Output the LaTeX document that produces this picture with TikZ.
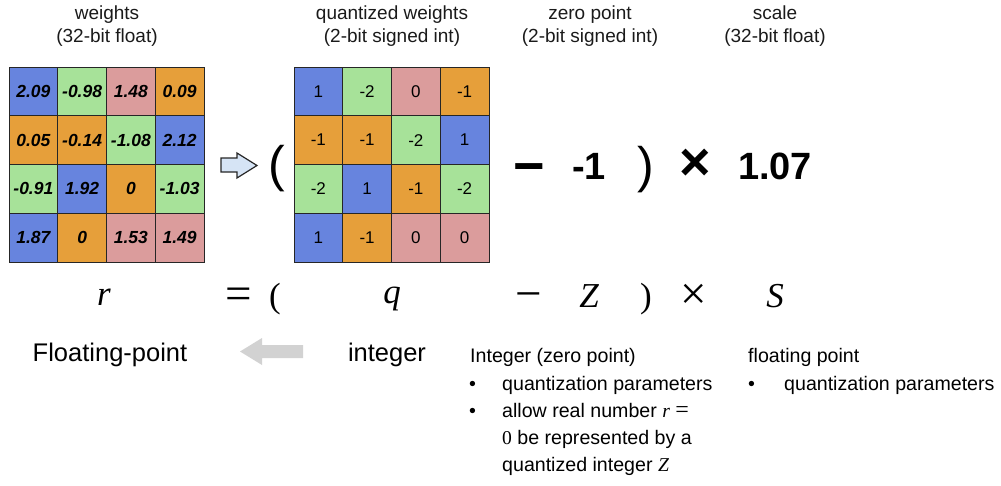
\documentclass[tikz,border=0pt]{standalone}
\usepackage[no-math]{fontspec}
\setmainfont{Liberation Sans}
\newfontfamily\eqfont{Liberation Serif}
\definecolor{cb}{HTML}{6784DE}
\definecolor{cg}{HTML}{A7E299}
\definecolor{cp}{HTML}{DB9C9C}
\definecolor{co}{HTML}{E69F3A}
\definecolor{arrowblue}{HTML}{D6E4F5}
\definecolor{arrowgray}{HTML}{D2D2D2}
\definecolor{ink}{HTML}{1A1A1A}
\begin{document}
\begin{tikzpicture}[x=1pt,y=-1pt,
  cell/.style={draw=black!85, line width=0.8pt, minimum size=48.75pt, inner sep=0pt},
  wnum/.style={cell, font=\fontsize{17.5}{20}\selectfont\bfseries\itshape},
  qnum/.style={cell, font=\fontsize{17}{20}\selectfont},
  wtitle/.style={align=center, font=\fontsize{19}{22.5}\selectfont, text=ink, inner sep=0pt},
  bignum/.style={inner sep=0pt, font=\fontsize{38}{44}\selectfont\bfseries},
  bigsym/.style={inner sep=0pt, font=\fontsize{54}{60}\selectfont\bfseries},
  bigparen/.style={inner sep=0pt, font=\fontsize{50}{60}\selectfont},
  eqsym/.style={inner sep=0pt, anchor=base, font=\fontsize{35}{40}\selectfont\eqfont},
  eqop/.style={inner sep=0pt, anchor=base, font=\fontsize{47}{50}\selectfont\eqfont},
  biglabel/.style={inner sep=0pt, anchor=base, font=\fontsize{25.5}{30}\selectfont},
  notetext/.style={inner sep=0pt, anchor=base west, font=\fontsize{19.6}{24}\selectfont},
  hollowarrow/.style={draw=black!85, line width=1.2pt, fill=arrowblue, line join=miter},
]
\useasboundingbox (0,0) rectangle (1001,485);

% titles
\node[wtitle] (t1) at (107,26) {weights\\(32-bit float)};
\node[wtitle] (t2) at (392,26) {quantized weights\\(2-bit signed int)};
\node[wtitle] (t3) at (590,26) {zero point\\(2-bit signed int)};
\node[wtitle] (t4) at (775,26) {scale\\(32-bit float)};

% weights grid
\foreach \clr/\val [count=\k from 0] in {cb/2.09, cg/-0.98, cp/1.48, co/0.09,
    co/0.05, co/-0.14, cg/-1.08, cb/2.12,
    cg/-0.91, cb/1.92, co/0, cg/-1.03,
    cb/1.87, co/0, cp/1.53, cp/1.49}{
  \pgfmathtruncatemacro{\row}{\k/4}
  \pgfmathtruncatemacro{\col}{\k-4*\row}
  \node[wnum, fill=\clr] (w\k) at ({9+48.75*(\col+0.5)},{67+48.75*(\row+0.5)}) {\val};
}

% quantized grid
\foreach \clr/\val [count=\k from 0] in {cb/1, cg/-2, cp/0, co/-1,
    co/-1, co/-1, cg/-2, cb/1,
    cg/-2, cb/1, co/-1, cg/-2,
    cb/1, co/-1, cp/0, cp/0}{
  \pgfmathtruncatemacro{\row}{\k/4}
  \pgfmathtruncatemacro{\col}{\k-4*\row}
  \node[qnum, fill=\clr] (q\k) at ({294+48.75*(\col+0.5)},{67+48.75*(\row+0.5)}) {\val};
}

% hollow arrow
\draw[hollowarrow] (221,158) -- (237,158) -- (237,153) -- (257,165.5) -- (237,178) -- (237,172) -- (221,172) -- cycle;

% top equation row
\node[bigparen] (lp) at (277,169) {(};
\node[bigsym] (mn) at (529,174) {−};
\node[bignum] (zp) at (589,166) {-1};
\node[bigparen] (rp) at (646,170) {)};
\node[bigsym] (tm) at (695,165) {×};
\node[bignum] (sc) at (775,166) {1.07};

% symbolic equation row
\node[eqsym] (r) at (104,305) {\itshape r};
\node[eqop] (eqs) at (239,309) {=};
\node[eqsym] (lp2) at (275,307) {(};
\node[eqsym] (q) at (392,303) {\itshape q};
\node[eqop] (mn2) at (529,309) {−};
\node[eqsym] (Z) at (589,307.5) {\itshape Z};
\node[eqsym] (rp2) at (646,307) {)};
\node[eqop] (tm2) at (694,309) {×};
\node[eqsym] (S) at (775,307.5) {\itshape S};

% labels
\node[biglabel] (fp) at (110,361) {Floating-point};
\node[biglabel] (int) at (387,361) {integer};
\fill[arrowgray] (303,345) -- (262,345) -- (262,338) -- (240,351.5) -- (262,365) -- (262,358) -- (303,358) -- cycle;

% notes: zero point
\node[notetext] (n1) at (470,362) {Integer (zero point)};
\node[notetext] (b1) at (469,390) {•};
\node[notetext] (n2) at (502,390) {quantization parameters};
\node[notetext] (b2) at (469,417) {•};
\node[notetext] (n3) at (502,417) {allow real number {\eqfont\itshape r} {\eqfont\fontsize{24}{24}\selectfont =}};
\node[notetext] (n4) at (502,444) {{\eqfont 0} be represented by a};
\node[notetext] (n5) at (502,471) {quantized integer {\eqfont\itshape Z}};

% notes: scale
\node[notetext] (m1) at (748,362) {floating point};
\node[notetext] (b3) at (748,390) {•};
\node[notetext] (m2) at (784,390) {quantization parameters};
\end{tikzpicture}
\end{document}
